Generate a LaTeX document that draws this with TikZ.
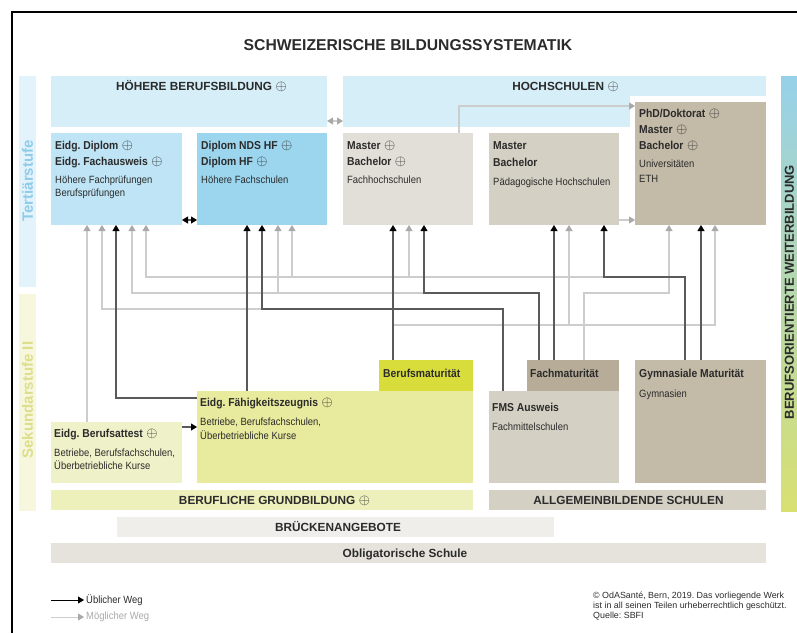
\documentclass[tikz,border=0pt]{standalone}
\usepackage{fontspec}
\setmainfont{Liberation Sans}
\newfontfamily\nar{Liberation Sans}[FakeStretch=0.9]
\usetikzlibrary{arrows.meta}
\frenchspacing

\definecolor{cHbb}{HTML}{D6EEF8}
\definecolor{cDipl}{HTML}{BEE4F5}
\definecolor{cHf}{HTML}{9CD5EE}
\definecolor{cFh}{HTML}{E2DFD8}
\definecolor{cPh}{HTML}{D5D0C4}
\definecolor{cUni}{HTML}{C3BAA7}
\definecolor{cBm}{HTML}{D8DD3C}
\definecolor{cEfz}{HTML}{E8EB9E}
\definecolor{cEba}{HTML}{EFF1C8}
\definecolor{cFm}{HTML}{B6AC97}
\definecolor{cBg}{HTML}{EEF0BC}
\definecolor{cBa}{HTML}{EFEEEA}
\definecolor{cOs}{HTML}{E5E3DC}
\definecolor{cTerS}{HTML}{E3F3FB}
\definecolor{cTerT}{HTML}{8FCCEA}
\definecolor{cSekS}{HTML}{F7F7DE}
\definecolor{cSekT}{HTML}{DCDE8C}
\definecolor{cWbT}{HTML}{96D1EA}
\definecolor{cWbM}{HTML}{CFE7CF}
\definecolor{cWbB}{HTML}{D8E070}
\definecolor{cDark}{HTML}{5A5A5A}
\definecolor{cGrey}{HTML}{CDCDCD}
\definecolor{cGreyTip}{HTML}{A9A9A9}
\definecolor{cTxt}{HTML}{2B2B2B}

\newcommand{\mehr}{\hspace{3.5pt}{\mdseries\fontsize{14}{14}\selectfont$\oplus$}}
\newcommand{\kl}{\fontsize{10.5}{13}\selectfont\mdseries}

\tikzset{
    box/.style={anchor=north west, inner sep=0pt, outer sep=0pt},
    txt/.style={anchor=north west, inner sep=0pt, align=left, text=cTxt,
        font=\nar\fontsize{11.5}{13}\selectfont\bfseries},
    hd/.style={anchor=base, inner sep=0pt, text=cTxt,
        font=\fontsize{11.8}{14}\selectfont\bfseries},
    side/.style={rotate=90, inner sep=0pt, font=\fontsize{15}{15}\selectfont\bfseries},
    ub/.style={draw=cDark, line width=1.1pt,
        >={Triangle[color=black, width=7pt, length=6pt]}, ->},
    mw/.style={draw=cGrey, line width=1.1pt,
        >={Triangle[color=cGreyTip, width=7pt, length=6pt]}, ->}
}

\begin{document}
\begin{tikzpicture}[x=1pt, y=-1pt]
  \useasboundingbox (0,0) rectangle (797,633);
  \draw[line width=2pt] (12,633) -- (12,12) -- (797,12);

  \node (tit) [hd, font=\fontsize{15.7}{18}\selectfont\bfseries] at (408,50) {SCHWEIZERISCHE BILDUNGSSYSTEMATIK};

  \node (ter) [box, fill=cTerS, minimum width=17pt, minimum height=211pt] at (19,76) {};
  \node (sek) [box, fill=cSekS, minimum width=17pt, minimum height=217pt] at (19,294) {};
  \node (wb) [box, top color=cWbT, middle color=cWbM, bottom color=cWbB, minimum width=16pt, minimum height=435pt] at (781,76) {};
  \node [side, text=cTerT] at (27.5,181) {Tertiärstufe};
  \node [side, text=cSekT] at (27.5,400) {Sekundarstufe II};
  \node [side, text=cTxt, font=\fontsize{13}{13}\selectfont\bfseries] at (789.5,292) {BERUFSORIENTIERTE WEITERBILDUNG};

  \node (hbb) [box, fill=cHbb, minimum width=276pt, minimum height=51pt] at (51,76) {};
  \node (hs) [box, fill=cHbb, minimum width=423pt, minimum height=51pt] at (343,76) {};
  \fill[white] (630,96) rectangle (767,133);
  \node [hd] at (201.5,90) {HÖHERE BERUFSBILDUNG\mehr};
  \node [hd] at (565.5,90) {HOCHSCHULEN\mehr};

  \node (dipl) [box, fill=cDipl, minimum width=131pt, minimum height=92pt] at (51,133) {};
  \node (hf) [box, fill=cHf, minimum width=130pt, minimum height=92pt] at (197,133) {};
  \node (fh) [box, fill=cFh, minimum width=130pt, minimum height=92pt] at (343,133) {};
  \node (ph) [box, fill=cPh, minimum width=130pt, minimum height=92pt] at (489,133) {};
  \node (uni) [box, fill=cUni, minimum width=131pt, minimum height=123pt] at (635,102) {};

  \node (dipl-t) [txt] at (55,141) {Eidg. Diplom\mehr\\[3pt] Eidg. Fachausweis\mehr\\[5pt]
    \kl Höhere Fachprüfungen\\ \kl Berufsprüfungen};
  \node (hf-t) [txt] at (201,141) {Diplom NDS HF\mehr\\[3pt] Diplom HF\mehr\\[5pt] \kl Höhere Fachschulen};
  \node (fh-t) [txt] at (347,141) {Master\mehr\\[3pt] Bachelor\mehr\\[5pt] \kl Fachhochschulen};
  \node (ph-t) [txt] at (493,141) {Master\\[4pt] Bachelor\\[6pt] \kl Pädagogische Hochschulen};
  \node (uni-t) [txt] at (639,109) {PhD/Doktorat\mehr\\[3pt] Master\mehr\\[3pt] Bachelor\mehr\\[5pt]
    \kl Universitäten\\[2pt] \kl ETH};

  \node (bm) [box, fill=cBm, minimum width=94pt, minimum height=31pt] at (379,360) {};
  \node (efz) [box, fill=cEfz, minimum width=276pt, minimum height=92pt] at (197,391) {};
  \node (eba) [box, fill=cEba, minimum width=131pt, minimum height=61pt] at (51,422) {};
  \node (fm) [box, fill=cFm, minimum width=92pt, minimum height=31pt] at (527,360) {};
  \node (fms) [box, fill=cPh, minimum width=130pt, minimum height=92pt] at (489,391) {};
  \node (gym) [box, fill=cUni, minimum width=131pt, minimum height=123pt] at (635,360) {};

  \node (bm-t) [txt] at (383,369) {Berufsmaturität};
  \node (efz-t) [txt] at (200,398) {Eidg. Fähigkeitszeugnis\mehr\\[6pt]
    \kl Betriebe, Berufsfachschulen,\\[1pt] \kl Überbetriebliche Kurse};
  \node (eba-t) [txt] at (54,429) {Eidg. Berufsattest\mehr\\[6pt]
    \kl Betriebe, Berufsfachschulen,\\ \kl Überbetriebliche Kurse};
  \node (fm-t) [txt] at (530,369) {Fachmaturität};
  \node (fms-t) [txt] at (492,403) {FMS Ausweis\\[6pt] \kl Fachmittelschulen};
  \node (gym-t) [txt] at (639,369) {Gymnasiale Maturität\\[7pt] \kl Gymnasien};

  \node (bg) [box, fill=cBg, minimum width=422pt, minimum height=20pt] at (51,490) {};
  \node (as) [box, fill=cPh, minimum width=277pt, minimum height=20pt] at (489,490) {};
  \node (ba) [box, fill=cBa, minimum width=437pt, minimum height=20pt] at (117,517) {};
  \node (os) [box, fill=cOs, minimum width=715pt, minimum height=20pt] at (51,543) {};
  \node [hd] at (274.5,504) {BERUFLICHE GRUNDBILDUNG\mehr};
  \node [hd] at (628.5,504) {ALLGEMEINBILDENDE SCHULEN};
  \node [hd] at (338,531) {BRÜCKENANGEBOTE};
  \node [hd] at (405,557) {Obligatorische Schule};

  \draw[mw] (eba.north -| 87,0) -- (dipl.south -| 87,0);
  \draw[mw] (fms.north -| 503,0) |- (102,309) -- (dipl.south -| 102,0);
  \draw[mw] (fm.north -| 539,0) |- (132,293) -- (dipl.south -| 132,0);
  \draw[mw] (gym.north -| 685,0) |- (146,277) -- (dipl.south -| 146,0);
  \coordinate (j1) at (278,293);
  \coordinate (j2) at (292,277);
  \coordinate (j3) at (409,277);
  \coordinate (j4) at (569,325);
  \draw[mw] (j1) -- (hf.south -| j1);
  \draw[mw] (j2) -- (hf.south -| j2);
  \draw[mw] (j3) -- (fh.south -| j3);
  \draw[mw] (fm.north -| 584,0) |- (669,293) -- (uni.south -| 669,0);
  \draw[mw] (bm.north -| 393,0) |- (715,325) -- (uni.south -| 715,0);
  \draw[mw] (j4) -- (ph.south -| j4);
  \draw[mw] (fh.north -| 459,0) |- (uni.west |- 0,106);
  \draw[mw] (ph.east |- 0,220) -- (uni.west |- 0,220);
  \draw[mw, <->] (hbb.east |- 0,121) -- (hs.west |- 0,121);

  \draw[ub] (efz.west |- 0,398) -| (dipl.south -| 116,0);
  \draw[ub] (efz.north -| 247,0) -- (hf.south -| 247,0);
  \draw[ub] (eba.east |- 0,427) -- (efz.west |- 0,427);
  \draw[ub] (bm.north -| 393,0) -- (fh.south -| 393,0);
  \draw[ub] (fm.north -| 539,0) |- (424,293) -- (fh.south -| 424,0);
  \draw[ub] (fm.north -| 554,0) -- (ph.south -| 554,0);
  \draw[ub] (fms.north -| 503,0) |- (262,309) -- (hf.south -| 262,0);
  \draw[ub] (gym.north -| 685,0) |- (604,277) -- (ph.south -| 604,0);
  \draw[ub] (gym.north -| 701,0) -- (uni.south -| 701,0);
  \draw[ub, <->] (dipl.east |- 0,220) -- (hf.west |- 0,220);

  \coordinate (lg1a) at (51,600);
  \coordinate (lg1b) at (84,600);
  \coordinate (lg2a) at (51,617);
  \coordinate (lg2b) at (84,617);
  \draw[ub, draw=black, line width=0.8pt] (lg1a) -- (lg1b);
  \draw[mw, line width=0.8pt] (lg2a) -- (lg2b);
  \node (lg1) [anchor=west, inner sep=2pt, text=cTxt, font=\nar\fontsize{10.5}{12}\selectfont] at (lg1b) {Üblicher Weg};
  \node (lg2) [anchor=west, inner sep=2pt, text=cGreyTip, font=\nar\fontsize{10.5}{12}\selectfont] at (lg2b) {Möglicher Weg};

  \node (copy) [anchor=north west, inner sep=0pt, align=left, text=cTxt, font=\fontsize{8.9}{9.7}\selectfont] at (593,592)
    {© OdASanté, Bern, 2019. Das vorliegende Werk\\ist in all seinen Teilen urheberrechtlich geschützt.\\Quelle: SBFI};
\end{tikzpicture}
\end{document}
